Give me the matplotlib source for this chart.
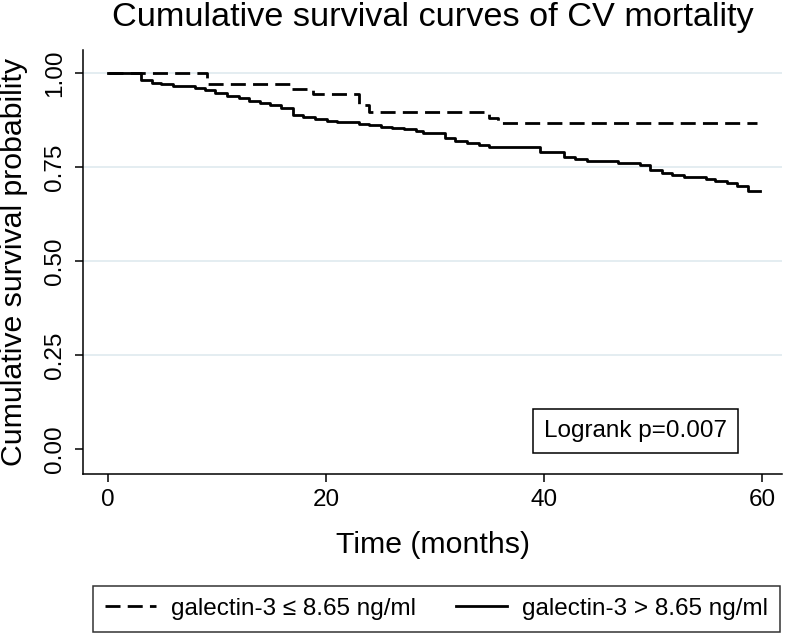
import matplotlib
matplotlib.use("Agg")
import matplotlib.pyplot as plt

plt.rcParams['font.family'] = ['Liberation Sans', 'DejaVu Sans']

# ---- data ----
t_low = [0, 9.05, 16.9, 18.8, 23.0, 23.9, 34.9, 35.8, 59.5]
s_low = [1.0, 0.970, 0.957, 0.944, 0.915, 0.896, 0.881, 0.866, 0.866]

t_high = [0, 3.0, 4.0, 4.9, 6.0, 8.0, 8.9, 9.8, 10.9, 12.0, 12.9, 13.9, 14.9,
          15.9, 17.0, 17.9, 19.0, 20.1, 21.0, 23.0, 23.9, 25.0, 26.0, 27.1,
          28.2, 28.9, 30.9, 31.8, 32.9, 34.0, 34.9, 39.6, 41.8, 42.8, 43.9,
          46.8, 48.8, 49.7, 50.8, 51.7, 52.8, 54.8, 55.7, 56.8, 57.7, 58.7, 59.8]
s_high = [1.0, 0.980, 0.974, 0.971, 0.966, 0.961, 0.955, 0.946, 0.939, 0.933,
          0.926, 0.920, 0.916, 0.908, 0.889, 0.882, 0.877, 0.873, 0.870, 0.865,
          0.861, 0.857, 0.853, 0.851, 0.847, 0.840, 0.826, 0.819, 0.815, 0.809,
          0.804, 0.791, 0.777, 0.770, 0.766, 0.760, 0.755, 0.742, 0.733, 0.729,
          0.723, 0.718, 0.714, 0.707, 0.699, 0.687, 0.687]

x_ticks = [0, 20, 40, 60]
y_ticks = [0.00, 0.25, 0.50, 0.75, 1.00]
y_ticklabels = ["0.00", "0.25", "0.50", "0.75", "1.00"]
grid_levels = [0.25, 0.50, 0.75, 1.00]

label_low = "galectin-3 \u2264 8.65 ng/ml"
label_high = "galectin-3 > 8.65 ng/ml"
title = "Cumulative survival curves of CV mortality"
xlabel = "Time (months)"
ylabel = "Cumulative survival probability"
annot = "Logrank p=0.007"

# ---- figure ----
W, H = 786, 637
fig = plt.figure(figsize=(W / 100, H / 100), dpi=100)
ax = fig.add_axes([83 / W, (H - 474) / H, (782 - 83) / W, (474 - 50) / H])

for g in grid_levels:
    ax.axhline(g, color='#e2ecf0', lw=1.3, zorder=0)

l1, = ax.step(t_low, s_low, where='post', color='black', lw=2.0,
              linestyle=(0, (5.4, 2.6)), label=label_low)
l2, = ax.step(t_high, s_high, where='post', color='black', lw=2.0,
              label=label_high)

ax.set_xlim(-2.29, 61.8)
ax.set_ylim(-0.066, 1.061)
ax.set_xticks(x_ticks)
ax.set_xticklabels([str(v) for v in x_ticks])
ax.set_yticks(y_ticks)
ax.set_yticklabels(y_ticklabels)

for s in ['top', 'right']:
    ax.spines[s].set_visible(False)
for s in ['left', 'bottom']:
    ax.spines[s].set_linewidth(1.1)

ax.tick_params(axis='both', direction='out', length=6, width=1.1,
               labelsize=17.5, colors='black')
ax.tick_params(axis='x', pad=5)
ax.tick_params(axis='y', pad=6)
for lab in ax.get_yticklabels():
    lab.set_rotation(90)
    lab.set_va('center')

ax.text(48.4, 0.048, annot, fontsize=17.5, ha='center', va='center',
        bbox=dict(boxstyle='square,pad=0.45', fc='white', ec='black', lw=1.1))

fig.text(432.5 / W, 1 - 26 / H, title, fontsize=24.7, ha='center',
         va='baseline')
fig.text(432.5 / W, 1 - 545 / H, xlabel, fontsize=21.8, ha='center',
         va='center')
fig.text(14 / W, 1 - 262 / H, ylabel, fontsize=21.8, ha='center',
         va='center', rotation=90)

leg = fig.legend(handles=[l1, l2], loc='lower left', ncol=2, mode='expand',
                 bbox_to_anchor=(93 / W, 5 / H, 687 / W, 44 / H),
                 fontsize=17.5, frameon=True, fancybox=False,
                 handlelength=2.1, handletextpad=0.6, columnspacing=1.5,
                 borderpad=0.5, borderaxespad=0)
leg.get_frame().set_edgecolor('black')
leg.get_frame().set_linewidth(1.1)

fig.savefig('out.png', dpi=100)
